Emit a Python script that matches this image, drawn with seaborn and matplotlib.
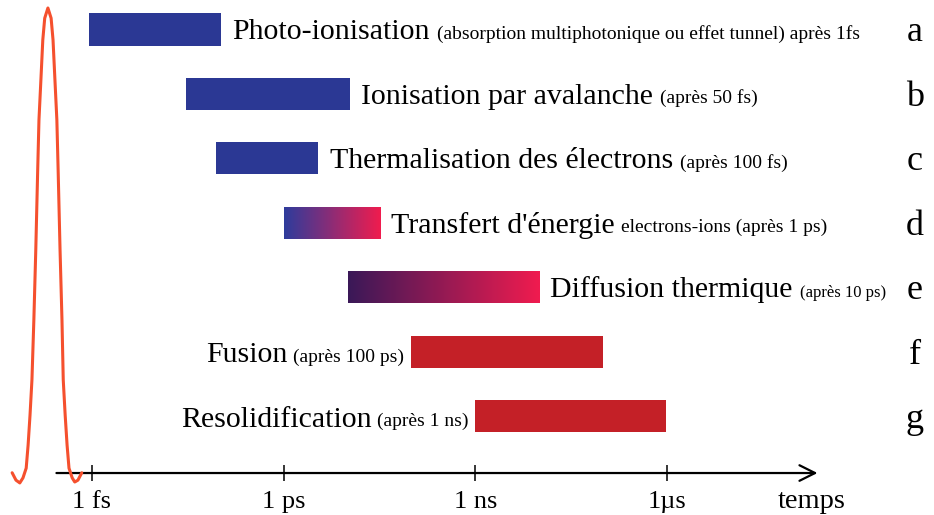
import numpy as np
import pandas as pd
import matplotlib
matplotlib.use("Agg")
import matplotlib.pyplot as plt
from matplotlib.colors import LinearSegmentedColormap
import seaborn as sns

sns.set_theme(style="white")
plt.rcParams['font.family'] = ['Liberation Serif', 'DejaVu Serif']
plt.rcParams['text.color'] = 'black'

# ---- data ----
rows = ["a", "b", "c", "d", "e", "f", "g"]
main_labels = ["Photo-ionisation", "Ionisation par avalanche",
               "Thermalisation des électrons", "Transfert d'énergie",
               "Diffusion thermique", "Fusion", "Resolidification"]
small_labels = ["(absorption multiphotonique ou effet tunnel) après 1fs",
                "(après 50 fs)", "(après 100 fs)", "electrons-ions (après 1 ps)",
                "(après 10 ps)", "(après 100 ps)", "(après 1 ns)"]
start_s = [0.9e-15, 3e-14, 8.7e-14, 1e-12, 1e-11, 1e-10, 1e-9]
end_s = [1.05e-13, 1.1e-11, 3.5e-12, 3.2e-11, 1e-8, 1e-7, 0.95e-6]

tick_values = [1e-15, 1e-12, 1e-9, 1e-6]
tick_labels = ["1 fs", "1 ps", "1 ns", "1µs"]

# laser pulse: log10(time in s), normalised amplitude
pulse_t = [-16.25, -16.19, -16.13, -16.08, -16.03, -16.00, -15.97, -15.94, -15.91,
           -15.88, -15.85, -15.83, -15.80, -15.77, -15.74, -15.69,
           -15.64, -15.61, -15.58, -15.55, -15.53, -15.50, -15.47, -15.45, -15.42,
           -15.39, -15.36, -15.31, -15.27, -15.22, -15.16]
pulse_amp = [-0.006, -0.022, -0.028, -0.017, 0.004, 0.054, 0.119, 0.195, 0.325,
             0.476, 0.649, 0.758, 0.844, 0.931, 0.978, 1.0,
             0.978, 0.931, 0.844, 0.758, 0.649, 0.476, 0.325, 0.195, 0.119,
             0.054, 0.004, -0.017, -0.026, -0.022, -0.006]

# ---- styles / layout ----
blue, red = "#2B3894", "#C42027"
bar_colors = [(blue, blue), (blue, blue), (blue, blue), ("#2E3C9C", "#F01C4E"),
              ("#3A1858", "#F01C4F"), (red, red), (red, red)]
label_side = ["right"] * 5 + ["left"] * 2
small_size = [14, 14, 14, 14, 12, 14, 14]
main_size = 21.5
pulse_color = "#F5502E"
axis_row = 6.88
letter_x = -2.12
arrow_x = (-15.6, -3.6)
temps_x = -3.73

df = pd.DataFrame({"row": rows, "start": np.log10(start_s), "end": np.log10(end_s)})
df["span"] = df["end"] - df["start"]

fig = plt.figure(figsize=(9.34, 5.15), dpi=100)
ax = fig.add_axes([0, 0, 1, 1])

sns.barplot(data=df, x="span", y="row", hue="row", orient="h", width=0.5,
            palette=[c[0] for c in bar_colors], saturation=1, legend=False, ax=ax)

grad = np.linspace(0, 1, 256).reshape(1, -1)
for patch in ax.patches:
    i = int(round(patch.get_y() + patch.get_height() / 2))
    patch.set_x(df.loc[i, "start"])
    patch.set_linewidth(0)
    c0, c1 = bar_colors[i]
    if c0 != c1:
        x0, x1 = df.loc[i, "start"], df.loc[i, "end"]
        y0, y1 = patch.get_y(), patch.get_y() + patch.get_height()
        cmap = LinearSegmentedColormap.from_list("g%d" % i, [c0, c1])
        im = ax.imshow(grad, cmap=cmap, extent=[x0, x1, y1, y0], aspect="auto", zorder=3)
        im.set_clip_path(patch)

# labels next to bars
for i in range(len(rows)):
    if label_side[i] == "right":
        t = ax.annotate(main_labels[i], xy=(df.loc[i, "end"], i), xytext=(8, -7),
                        textcoords="offset points", ha="left", va="baseline",
                        fontsize=main_size)
        ax.annotate(small_labels[i], xy=(1, 0), xycoords=t, xytext=(5, 1.8),
                    textcoords="offset points", ha="left", va="bottom",
                    fontsize=small_size[i])
    else:
        s = ax.annotate(small_labels[i], xy=(df.loc[i, "start"], i), xytext=(-5, -7),
                        textcoords="offset points", ha="right", va="baseline",
                        fontsize=small_size[i])
        ax.annotate(main_labels[i], xy=(0, 0), xycoords=s, xytext=(-4, -1.8),
                    textcoords="offset points", ha="right", va="bottom",
                    fontsize=main_size)
    ax.annotate(rows[i], xy=(letter_x, i), xytext=(0, -8.5), textcoords="offset points",
                ha="center", va="baseline", fontsize=26)

# time axis
ax.annotate("", xy=(arrow_x[1], axis_row), xytext=(arrow_x[0], axis_row),
            arrowprops=dict(arrowstyle="->", lw=1.6, color="black", mutation_scale=28))
ax.plot(np.log10(tick_values), [axis_row] * len(tick_values), ls="none", marker="|",
        ms=12, mew=1.1, color="black")
for v, lab in zip(np.log10(tick_values), tick_labels):
    ax.annotate(lab, xy=(v, axis_row), xytext=(0, -25), textcoords="offset points",
                ha="center", va="baseline", fontsize=19)
ax.annotate("temps", xy=(temps_x, axis_row), xytext=(0, -25), textcoords="offset points",
            ha="center", va="baseline", fontsize=20.5)

# laser pulse
pulse_rows = 6.833 - np.array(pulse_amp) * 7.165
sns.lineplot(x=pulse_t, y=pulse_rows, sort=False, color=pulse_color, lw=2.2,
             ax=ax, zorder=5)

ax.set_xlim(-16.44, -1.82)
ax.set_ylim(7.531, -0.456)
ax.axis("off")

fig.savefig("out.png", dpi=100)
